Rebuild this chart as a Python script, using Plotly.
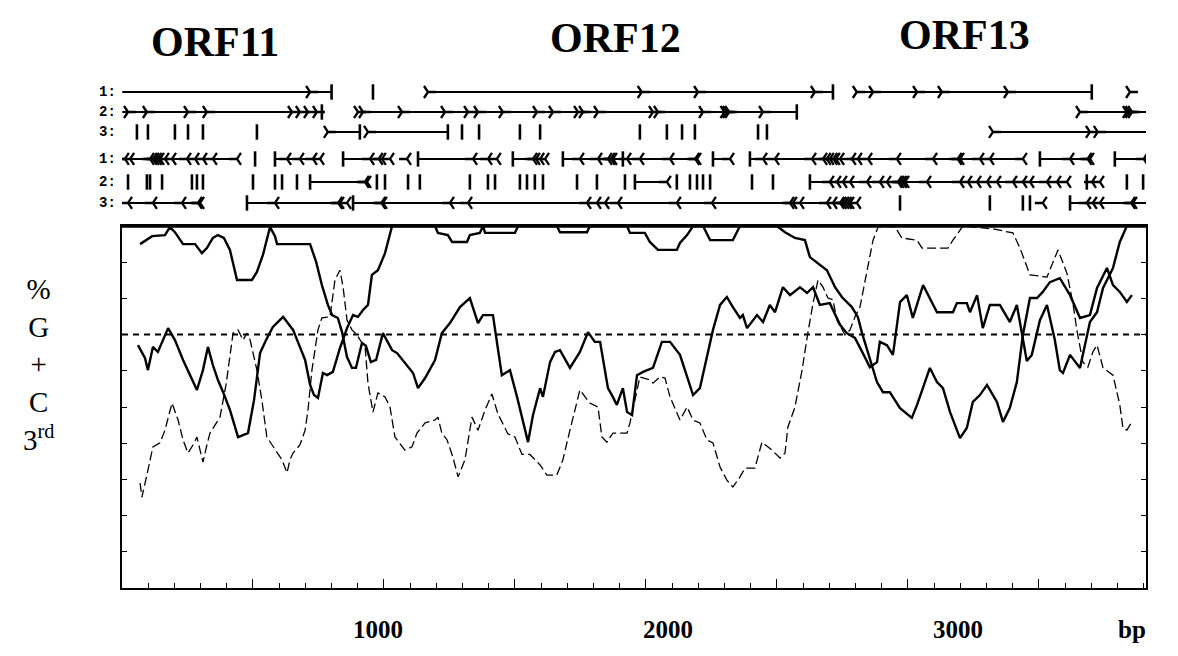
import plotly.graph_objects as go

# ---------------- data ----------------
AXIS_END_BP = 3909          # right edge of the plot frame (bp)
MEAN_GC = 70                # dashed reference level (%)

# %G+C at 3rd codon position, three frames (position bp, value %)
frame_a_pos = [69, 88, 115, 164, 183, 202, 233, 279, 305, 324, 347, 366, 389, 412, 439, 496, 515, 538, 565, 584, 592,
               718, 741, 763, 786, 802, 824, 840, 859, 878, 893, 916, 931, 950, 970, 996, 1031, 1050, 1080, 1111, 1130,
               1157, 1195, 1221, 1252, 1290, 1328, 1359, 1378, 1416, 1450, 1481, 1508, 1550, 1569, 1596, 1607, 1634,
               1653, 1672, 1710, 1748, 1779, 1805, 1825, 1855, 1870, 1889, 1912, 1928, 1947, 1966, 1989, 2027, 2061,
               2092, 2130, 2180, 2206, 2256, 2283, 2309, 2332, 2359, 2370, 2386, 2424, 2447, 2473, 2493, 2523, 2550,
               2588, 2615, 2638, 2664, 2702, 2741, 2767, 2798, 2828, 2855, 2882, 2893, 2920, 2943, 2970, 2996, 3019,
               3058, 3111, 3172, 3187, 3225, 3237, 3264, 3286, 3313, 3351, 3389, 3416, 3439, 3454, 3473, 3504, 3531,
               3561, 3580, 3592, 3619, 3657, 3695, 3722, 3745, 3783, 3809, 3836]
frame_a_gc = [95.0, 95.9, 97.2, 97.5, 99.7, 98.3, 95.0, 95.0, 92.5, 93.9, 96.7, 97.5, 96.7, 93.4, 85.1, 85.1, 87.3, 92.0,
              99.7, 97.2, 95.0, 95.0, 90.1, 83.7, 78.2, 75.4, 74.6, 70.7, 63.8, 60.8, 60.8, 67.7, 66.9, 62.4, 63.0,
              70.4, 65.7, 64.9, 62.2, 59.4, 55.2, 58.0, 63.0, 70.4, 73.2, 77.6, 80.1, 73.2, 75.4, 75.4, 58.8, 60.2,
              52.8, 40.3, 47.8, 55.2, 52.8, 62.4, 65.2, 65.7, 60.8, 65.2, 70.7, 68.0, 68.0, 55.2, 53.3, 50.6, 55.2,
              48.6, 47.8, 58.8, 59.7, 60.8, 68.0, 68.0, 64.4, 53.3, 55.2, 71.3, 78.2, 80.4, 77.6, 74.6, 75.4, 71.8,
              75.4, 73.5, 78.2, 76.2, 83.1, 80.9, 83.1, 81.5, 83.1, 78.2, 78.7, 72.7, 70.4, 69.1, 64.9, 61.0, 62.4,
              68.0, 67.1, 64.4, 79.0, 80.9, 74.6, 83.7, 76.2, 76.2, 78.7, 78.7, 76.2, 80.9, 71.8, 78.2, 78.2, 73.5,
              78.2, 69.3, 62.7, 64.4, 74.0, 78.2, 68.5, 60.2, 59.4, 64.4, 60.8, 73.5, 76.2, 82.9, 88.4, 95.6, 100.0]

frame_b_pos = [61, 88, 99, 118, 137, 156, 176, 202, 233, 260, 286, 309, 328, 347, 366, 386, 412, 443, 462, 481, 504,
               527, 550, 576, 615, 653, 679, 699, 718, 733, 748, 767, 783, 805, 832, 859, 882, 901, 920, 939, 954, 977,
               1004, 1031, 1195, 1206, 1244, 1260, 1317, 1328, 1366, 1378, 1386, 1500, 1512, 1660, 1672, 1775, 1786,
               1928, 1939, 1996, 2015, 2046, 2118, 2130, 2157, 2180, 2218, 2245, 2332, 2359, 2500, 2531, 2569, 2607,
               2626, 2657, 2691, 2722, 2748, 2786, 2809, 2825, 2848, 2863, 2882, 2905, 2931, 2970, 3015, 3035, 3084,
               3111, 3134, 3161, 3199, 3225, 3248, 3275, 3302, 3340, 3363, 3389, 3416, 3439, 3466, 3493, 3515, 3542,
               3580, 3619, 3657, 3695, 3722, 3760, 3783, 3809, 3836, 3855]
frame_b_gc = [67.1, 63.5, 60.2, 66.6, 65.2, 68.5, 71.8, 68.5, 63.0, 58.8, 54.7, 60.2, 66.6, 61.6, 57.5, 54.1, 49.2,
              41.7, 42.3, 42.8, 51.9, 64.9, 68.5, 72.1, 74.9, 71.3, 66.6, 63.0, 56.1, 53.3, 52.5, 59.4, 58.8, 59.7,
              66.3, 71.8, 75.4, 74.9, 76.8, 78.2, 86.5, 87.8, 92.5, 100.0, 100.0, 98.1, 97.5, 95.6, 95.6, 97.5, 98.1,
              100.0, 98.1, 98.1, 100.0, 100.0, 98.3, 98.3, 100.0, 100.0, 98.1, 98.1, 95.6, 93.4, 93.4, 95.3, 97.5,
              100.0, 100.0, 96.1, 96.1, 100.0, 100.0, 98.3, 96.7, 96.1, 91.4, 89.8, 87.8, 83.1, 80.4, 77.6, 74.9,
              70.4, 64.9, 61.0, 56.9, 54.1, 54.1, 49.7, 47.0, 50.6, 60.8, 56.9, 55.2, 48.6, 41.4, 44.2, 51.4, 53.3,
              56.1, 51.4, 45.9, 49.7, 56.9, 69.9, 80.1, 80.1, 81.8, 84.5, 85.6, 80.9, 74.6, 75.4, 82.9, 88.4, 83.7,
              81.8, 79.0, 80.9]

frame_c_pos = [69, 76, 95, 118, 145, 164, 191, 214, 233, 252, 271, 286, 298, 309, 324, 336, 355, 374, 397, 412, 424,
               443, 462, 477, 489, 515, 534, 553, 573, 592, 611, 630, 641, 653, 679, 699, 710, 725, 748, 763, 794, 813,
               832, 844, 859, 878, 897, 916, 928, 939, 958, 977, 1004, 1023, 1042, 1080, 1107, 1126, 1157, 1195, 1206,
               1221, 1241, 1263, 1283, 1309, 1336, 1359, 1386, 1412, 1435, 1473, 1500, 1527, 1557, 1596, 1622, 1660,
               1683, 1710, 1748, 1786, 1817, 1832, 1851, 1874, 1928, 1939, 1977, 2015, 2027, 2053, 2073, 2092, 2130,
               2157, 2180, 2206, 2233, 2256, 2283, 2309, 2332, 2359, 2378, 2416, 2443, 2481, 2512, 2531, 2542, 2569,
               2596, 2618, 2638, 2657, 2676, 2695, 2714, 2729, 2748, 2760, 2779, 2798, 2817, 2840, 2867, 2886, 2912,
               2951, 2977, 3035, 3054, 3153, 3172, 3210, 3325, 3401, 3428, 3466, 3531, 3573, 3607, 3630, 3645, 3668,
               3687, 3706, 3722, 3745, 3783, 3809, 3821, 3836, 3855]
frame_c_gc = [29.0, 25.1, 31.2, 39.0, 40.1, 43.6, 51.1, 46.4, 40.9, 37.3, 39.5, 41.7, 38.1, 34.8, 39.5, 42.8, 45.0,
              47.2, 56.1, 64.4, 70.4, 71.3, 68.5, 70.4, 68.5, 60.2, 51.9, 41.7, 39.5, 37.3, 35.4, 31.8, 35.4, 37.3,
              39.5, 43.6, 49.2, 60.2, 71.3, 74.6, 74.9, 85.1, 87.8, 83.1, 74.0, 71.3, 69.9, 67.7, 66.6, 56.6, 48.6,
              53.9, 52.8, 50.0, 41.7, 38.1, 39.0, 42.8, 45.6, 46.4, 47.2, 42.8, 40.9, 36.2, 30.7, 35.4, 47.2, 43.6,
              49.2, 53.6, 48.1, 42.6, 41.7, 36.9, 36.9, 34.0, 31.2, 31.2, 35.4, 43.6, 54.7, 51.1, 50.0, 41.7, 40.3,
              42.8, 42.8, 45.6, 58.3, 57.5, 56.6, 58.3, 58.0, 52.8, 46.4, 50.0, 46.4, 45.6, 40.9, 40.1, 33.4, 29.8,
              27.9, 30.7, 33.1, 33.1, 40.3, 38.1, 35.9, 37.3, 44.5, 50.0, 60.2, 70.4, 78.7, 85.1, 83.1, 80.1, 79.6,
              74.0, 71.3, 69.9, 71.3, 74.9, 77.6, 86.5, 96.1, 99.7, 100.0, 99.7, 96.7, 96.1, 93.9, 93.9, 96.1, 100.0,
              99.2, 98.1, 93.9, 86.5, 85.9, 93.4, 87.0, 78.7, 71.3, 62.4, 61.0, 65.2, 67.1, 60.8, 58.8, 50.6, 44.2,
              43.6, 45.9]

# ORF map: six reading frames (3 forward, 3 reverse)
f1_orfs = [(1, 800), (1168, 2714), (2805, 3702)]
f1_stops = [800, 958, 2714, 3702]
f1_starts = [718, 1168, 1984, 2199, 2645, 2805, 2867, 3035, 3130, 3382, 3848]

f2_orfs = [(1, 763), (901, 2576), (3657, 3909)]
f2_stops = [763, 2576]
f2_starts = [23, 95, 252, 324, 649, 679, 710, 744, 901, 920, 1069, 1233, 1321, 1359, 1454, 1584, 1645, 1741, 1760,
             1817, 2027, 2046, 2218, 2300, 2309, 2318, 2447, 3657, 3836, 3846, 3856]

f3_orfs = [(786, 908), (939, 1244), (3325, 3909)]
f3_stops = [57, 99, 202, 252, 309, 515, 908, 1244, 1298, 1363, 1519, 1596, 1977, 2080, 2138, 2187, 2428, 2462]
f3_starts = [786, 939, 3325, 3695, 3725]

r1_orfs = [(1, 439), (584, 756), (844, 1023), (1130, 1431), (1492, 1615), (1683, 2195), (2256, 2321), (2397, 3439),
           (3504, 3695), (3790, 3909)]
r1_stops = [508, 584, 844, 1130, 1492, 1683, 1912, 2256, 2397, 3504, 3790]
r1_starts = [11, 31, 107, 118, 126, 136, 145, 164, 191, 248, 279, 309, 347, 439, 630, 679, 729, 756, 947, 980, 992,
             1023, 1088, 1340, 1397, 1431, 1569, 1580, 1596, 1615, 1748, 1817, 1855, 1866, 1874, 1928, 1977, 2092,
             2188, 2195, 2321, 2447, 2493, 2634, 2676, 2690, 2702, 2715, 2725, 2741, 2786, 2809, 2848, 2958, 3096,
             3190, 3199, 3275, 3313, 3439, 3619, 3686, 3695, 3900]

r2_orfs = [(718, 935), (1958, 2080), (2626, 3607)]
r2_stops = [23, 95, 107, 153, 267, 286, 309, 500, 584, 611, 668, 718, 973, 1004, 1092, 1137, 1328, 1397, 1424, 1519,
            1546, 1576, 1607, 1737, 1813, 1920, 1958, 2118, 2168, 2195, 2218, 2245, 2405, 2485, 2626, 3683, 3836, 3898]
r2_starts = [927, 935, 2080, 2702, 2729, 2752, 2779, 2844, 2893, 2920, 2962, 2970, 2980, 2989, 3073, 3199, 3229, 3264,
             3302, 3340, 3401, 3439, 3466, 3531, 3569, 3607, 3703, 3733]

r3_orfs = [(1, 298), (477, 859), (882, 2805), (3619, 3909)]
r3_stops = [477, 882, 2970, 3313, 3439, 3466, 3619]
r3_starts = [23, 118, 229, 290, 298, 584, 825, 832, 859, 990, 996, 1252, 1321, 1775, 1813, 1844, 1893, 2118, 2252,
             2550, 2561, 2588, 2691, 2714, 2741, 2750, 2760, 2770, 2779, 2805, 3515, 3683, 3706, 3733, 3852, 3859]

orf_titles = ["ORF11", "ORF12", "ORF13"]
orf_title_pos = [355, 1882, 3218]
x_labels = ["1000", "2000", "3000", "bp"]

# ---------------- figure ----------------
fig = go.Figure()

# reading-frame rows on the top panel
row_level = {"1f": 6.15, "2f": 5.15, "3f": 4.15, "1r": 2.8, "2r": 1.65, "3r": 0.6}
rows = [
    ("1f", f1_orfs, f1_stops, f1_starts, "forward"),
    ("2f", f2_orfs, f2_stops, f2_starts, "forward"),
    ("3f", f3_orfs, f3_stops, f3_starts, "forward"),
    ("1r", r1_orfs, r1_stops, r1_starts, "reverse"),
    ("2r", r2_orfs, r2_stops, r2_starts, "reverse"),
    ("3r", r3_orfs, r3_stops, r3_starts, "reverse"),
]
for key, orfs, stops, starts, strand in rows:
    lv = row_level[key]
    xs, ys = [], []
    for a, b in orfs:
        xs += [a, b, None]
        ys += [lv, lv, None]
    fig.add_trace(go.Scatter(x=xs, y=ys, mode="lines", yaxis="y2",
                             line=dict(color="black", width=2), hoverinfo="skip", showlegend=False))
    fig.add_trace(go.Scatter(x=stops, y=[lv] * len(stops), mode="markers", yaxis="y2",
                             marker=dict(symbol="line-ns", size=11, line=dict(color="black", width=2.6)),
                             hoverinfo="skip", showlegend=False))
    fig.add_trace(go.Scatter(x=starts, y=[lv] * len(starts), mode="markers", yaxis="y2",
                             marker=dict(symbol="y-right" if strand == "forward" else "y-left", size=10,
                                         line=dict(color="black", width=2.3)),
                             hoverinfo="skip", showlegend=False))

# GC3 curves
fig.add_trace(go.Scatter(x=frame_a_pos, y=frame_a_gc, mode="lines",
                         line=dict(color="black", width=2.4), hoverinfo="skip", showlegend=False))
fig.add_trace(go.Scatter(x=frame_b_pos, y=frame_b_gc, mode="lines",
                         line=dict(color="black", width=2.4), hoverinfo="skip", showlegend=False))
fig.add_trace(go.Scatter(x=frame_c_pos, y=frame_c_gc, mode="lines",
                         line=dict(color="black", width=1.3, dash="9px,4px"), hoverinfo="skip", showlegend=False))

fig.add_hline(y=MEAN_GC, line=dict(color="black", width=2, dash="6px,5px"))
fig.add_shape(type="line", xref="x domain", yref="y", x0=0, x1=1, y0=100, y1=100,
              line=dict(color="black", width=3.5))

annotations = []
for t, p, ty in zip(orf_titles, orf_title_pos, [0.9785, 0.9857, 0.991]):
    annotations.append(dict(text=f"<b>{t}</b>", x=p, xref="x", xanchor="center", y=ty, yref="paper",
                            yanchor="middle", showarrow=False,
                            font=dict(family="Liberation Serif", size=42, color="black")))
for key in row_level:
    annotations.append(dict(text="<b>" + key[0] + ":</b>", x=-0.004, xref="paper", xanchor="right",
                            y=row_level[key], yref="y2", yanchor="middle", showarrow=False,
                            font=dict(family="Liberation Mono", size=14, color="black")))
for t, px in zip(x_labels, [0.25, 0.533, 0.8164, 0.986]):
    annotations.append(dict(text=f"<b>{t}</b>", x=px, xref="paper", xanchor="center", y=-0.075, yref="paper",
                            yanchor="middle", showarrow=False,
                            font=dict(family="Liberation Serif", size=25, color="black")))
annotations.append(dict(text="%<br>G<br>+<br>C<br>3<sup>rd</sup>", x=-0.082, xref="paper", xanchor="center",
                        y=0.40, yref="paper", yanchor="middle", showarrow=False, align="center",
                        font=dict(family="Liberation Serif", size=29, color="black")))

fig.update_layout(
    width=1170, height=648,
    margin=dict(l=114, r=32, t=22, b=68),
    paper_bgcolor="white", plot_bgcolor="white",
    xaxis=dict(range=[0, AXIS_END_BP], showgrid=False, zeroline=False, showline=True, mirror=True,
               linecolor="black", linewidth=2.2, ticks="inside", tick0=0, dtick=500, ticklen=9,
               tickwidth=1.4, tickcolor="black", showticklabels=False,
               minor=dict(dtick=100, ticks="inside", ticklen=5, tickwidth=1.4, tickcolor="black"),
               anchor="y"),
    yaxis=dict(range=[0, 100], domain=[0, 0.6487], showgrid=False, zeroline=False, showline=True,
               mirror="ticks", linecolor="black", linewidth=2, ticks="inside", dtick=10, ticklen=5,
               tickwidth=1.4, tickcolor="black", showticklabels=False),
    yaxis2=dict(range=[0, 6.75], domain=[0.6685, 0.9104], visible=False, anchor="x"),
    annotations=annotations,
)

fig.write_html("out.html")
